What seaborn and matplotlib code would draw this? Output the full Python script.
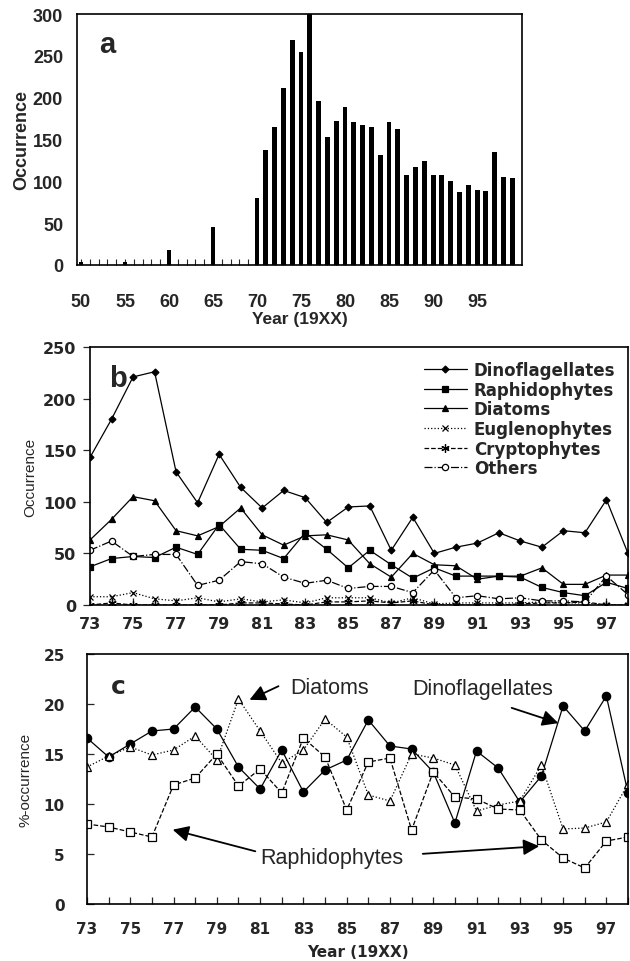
import numpy as np
import pandas as pd
import matplotlib
matplotlib.use("Agg")
import matplotlib.pyplot as plt
from matplotlib.font_manager import FontProperties
import seaborn as sns

# ---------- data ----------
bar_years = [50, 55, 60, 65] + list(range(70, 100))
bar_counts = [4, 4, 18, 45,
              80, 137, 165, 211, 269, 255, 300, 196, 153, 172,
              189, 171, 167, 165, 131, 171, 163, 107, 117, 124,
              108, 107, 100, 87, 96, 90, 89, 135, 105, 104]

years_bc = list(range(73, 99))
dino = [143, 180, 221, 226, 129, 99, 146, 114, 94, 111, 104, 80, 95, 96,
        53, 85, 50, 56, 60, 70, 62, 56, 72, 70, 102, 50]
raph = [37, 45, 47, 46, 56, 49, 78, 54, 53, 45, 70, 54, 36, 53,
        39, 26, 36, 28, 28, 28, 27, 17, 12, 9, 22, 16]
diat = [63, 83, 105, 101, 72, 67, 76, 94, 68, 58, 67, 68, 63, 40,
        27, 50, 39, 38, 25, 28, 28, 36, 20, 20, 29, 29]
eugl = [8, 8, 12, 6, 4, 7, 3, 6, 3, 5, 2, 7, 7, 7,
        2, 7, 1, 2, 2, 2, 2, 3, 2, 2, 0, 0]
cryp = [0, 2, 0, 0, 0, 0, 0, 2, 2, 1, 0, 3, 3, 4,
        2, 4, 0, 0, 0, 0, 1, 2, 2, 3, 0, 0]
others = [53, 62, 47, 49, 49, 19, 24, 42, 40, 27, 21, 24, 16, 18,
          18, 12, 34, 7, 9, 6, 7, 4, 4, 3, 28, 10]

pct_dino = [16.6, 14.7, 16.0, 17.3, 17.5, 19.7, 17.5, 13.7, 11.5, 15.4, 11.2, 13.4,
            14.4, 18.4, 15.8, 15.5, 13.2, 8.1, 15.3, 13.6, 10.2, 12.8, 19.8, 17.3, 20.8, 11.1]
pct_diat = [13.7, 14.8, 15.7, 14.9, 15.4, 16.8, 14.4, 20.5, 17.3, 14.1, 15.4, 18.5,
            16.7, 10.9, 10.3, 15.0, 14.6, 13.9, 9.3, 9.9, 10.3, 13.9, 7.5, 7.6, 8.2, 12.0]
pct_raph = [8.0, 7.7, 7.2, 6.7, 11.9, 12.6, 15.0, 11.8, 13.5, 11.1, 16.6, 14.7,
            9.4, 14.2, 14.6, 7.4, 13.2, 10.7, 10.5, 9.5, 9.4, 6.4, 4.6, 3.6, 6.3, 6.7]

# ---------- style ----------
sns.set_theme(style="white")
plt.rcParams['font.family'] = ['DejaVu Sans']
plt.rcParams['axes.edgecolor'] = 'black'
plt.rcParams['axes.linewidth'] = 1.2

fig = plt.figure(figsize=(6.3, 9.62), dpi=100)
W, H = 630, 962
def rect(l, t, r, b):
    return [l / W, 1 - b / H, (r - l) / W, (b - t) / H]

ax_a = fig.add_axes(rect(77, 15, 522, 266))
ax_b = fig.add_axes(rect(90, 348, 628, 606))
ax_c = fig.add_axes(rect(87, 655, 628, 905))

fp_a = FontProperties(family='Liberation Sans', weight='bold', size=13)
fp_b = FontProperties(family='DejaVu Sans', weight='bold', size=11.5)
fp_c = FontProperties(family='DejaVu Sans', weight='bold', size=11)

# ---------- panel a ----------
df_a = pd.DataFrame({'year': bar_years, 'count': bar_counts})
sns.barplot(data=df_a, x='year', y='count', native_scale=True, color='black',
            width=0.55, saturation=1, edgecolor='black', linewidth=0, ax=ax_a)
ax_a.set_xlim(49.55, 100.1)
ax_a.set_ylim(0, 300)
ax_a.set_xticks(range(50, 100, 5))
ax_a.set_xticks(range(50, 100), minor=True)
ax_a.set_yticks(range(0, 301, 50))
ax_a.tick_params(axis='x', which='both', direction='in', length=4, width=0.8, bottom=True, pad=20)
ax_a.tick_params(axis='y', length=0, pad=10)
for lab in ax_a.get_xticklabels() + ax_a.get_yticklabels():
    lab.set_fontproperties(fp_a)
ax_a.set_xlabel('Year (19XX)', fontdict=dict(family='Liberation Sans', weight='bold', size=12.5), labelpad=1)
ax_a.set_ylabel('Occurrence', fontdict=dict(family='Liberation Sans', weight='bold', size=13), labelpad=2)
ax_a.text(0.05, 0.88, 'a', transform=ax_a.transAxes, fontsize=21, fontweight='bold',
          family='Liberation Sans', va='center')

# ---------- panel b ----------
series_b = [
    ('Dinoflagellates', dino, dict(marker='D', markersize=3.5, linestyle='-', mfc='black')),
    ('Raphidophytes', raph, dict(marker='s', markersize=5, linestyle='-', mfc='black')),
    ('Diatoms', diat, dict(marker='^', markersize=5, linestyle='-', mfc='black')),
    ('Euglenophytes', eugl, dict(marker='x', markersize=5, linestyle=':', mfc='black')),
    ('Cryptophytes', cryp, dict(marker=(6, 2, 0), markersize=6, linestyle='--', mfc='black')),
    ('Others', others, dict(marker='o', markersize=4.5, linestyle='-.', mfc='white')),
]
for name, vals, kw in series_b:
    sns.lineplot(x=years_bc, y=vals, color='black', linewidth=0.9, mec='black',
                 mew=0.9, label=name, ax=ax_b, **kw)
ax_b.set_xlim(73, 97.9)
ax_b.set_ylim(0, 250)
ax_b.set_xticks(range(73, 98, 2))
ax_b.set_xticks(range(73, 99), minor=True)
ax_b.set_yticks(range(0, 251, 50))
ax_b.tick_params(axis='x', which='both', direction='in', length=5, width=0.9, bottom=True, pad=8)
ax_b.tick_params(axis='y', direction='out', length=5, width=0.9, left=True, pad=5)
for lab in ax_b.get_xticklabels() + ax_b.get_yticklabels():
    lab.set_fontproperties(fp_b)
ax_b.set_ylabel('Occurrence', fontdict=dict(family='Liberation Sans', size=11), labelpad=4)
ax_b.set_xlabel('')
ax_b.text(0.035, 0.88, 'b', transform=ax_b.transAxes, fontsize=21, fontweight='bold',
          family='Liberation Sans', va='center')
leg = ax_b.legend(loc='upper right', bbox_to_anchor=(0.995, 0.985), frameon=False,
                  prop=dict(family='DejaVu Sans', weight='bold', size=12),
                  handlelength=2.6, labelspacing=0.1, handletextpad=0.4, borderaxespad=0.2)

# ---------- panel c ----------
series_c = [
    ('Dinoflagellates', pct_dino, dict(marker='o', markersize=6, linestyle='-', mfc='black')),
    ('Diatoms', pct_diat, dict(marker='^', markersize=6, linestyle=':', mfc='white')),
    ('Raphidophytes', pct_raph, dict(marker='s', markersize=5.5, linestyle='--', mfc='white')),
]
for name, vals, kw in series_c:
    sns.lineplot(x=years_bc, y=vals, color='black', linewidth=0.9, mec='black',
                 mew=0.9, ax=ax_c, legend=False, **kw)
ax_c.set_xlim(73, 97.9)
ax_c.set_ylim(0, 25)
ax_c.set_xticks(range(73, 98, 2))
ax_c.set_xticks(range(73, 99), minor=True)
ax_c.set_yticks(range(0, 26, 5))
ax_c.tick_params(axis='x', which='both', direction='in', length=5, width=0.9, bottom=True, pad=12)
ax_c.tick_params(axis='y', direction='in', length=5, width=0.9, left=True, pad=16)
for lab in ax_c.get_xticklabels() + ax_c.get_yticklabels():
    lab.set_fontproperties(fp_c)
ax_c.set_ylabel('%-occurrence', fontdict=dict(family='Liberation Sans', size=11), labelpad=8)
ax_c.set_xlabel('Year (19XX)', fontdict=dict(family='DejaVu Sans', weight='bold', size=11), labelpad=6)
ax_c.text(0.045, 0.87, 'c', transform=ax_c.transAxes, fontsize=18, fontweight='bold',
          family='DejaVu Sans', va='center')

ann_font = dict(family='Liberation Sans', size=15.5)
arrow = dict(arrowstyle='-|>', color='black', lw=1.3, mutation_scale=24)
def px(x, y):
    return (x / W, 1 - y / H)
fig.text(*px(290, 689), 'Diatoms', va='center', ha='left', **ann_font)
fig.text(*px(412, 689), 'Dinoflagellates', va='center', ha='left', **ann_font)
fig.text(*px(260, 859), 'Raphidophytes', va='center', ha='left', **ann_font)
ax_c.annotate('', xy=px(247, 702), xytext=px(281, 686), xycoords='figure fraction',
              textcoords='figure fraction', arrowprops=arrow)
ax_c.annotate('', xy=px(561, 725), xytext=px(509, 708), xycoords='figure fraction',
              textcoords='figure fraction', arrowprops=arrow)
ax_c.annotate('', xy=px(170, 830), xytext=px(258, 853), xycoords='figure fraction',
              textcoords='figure fraction', arrowprops=arrow)
ax_c.annotate('', xy=px(542, 847), xytext=px(420, 855), xycoords='figure fraction',
              textcoords='figure fraction', arrowprops=arrow)

for ax in (ax_a, ax_b, ax_c):
    for s in ax.spines.values():
        s.set_visible(True)
        s.set_color('black')
    ax.grid(False)

fig.savefig('out.png', dpi=100)
